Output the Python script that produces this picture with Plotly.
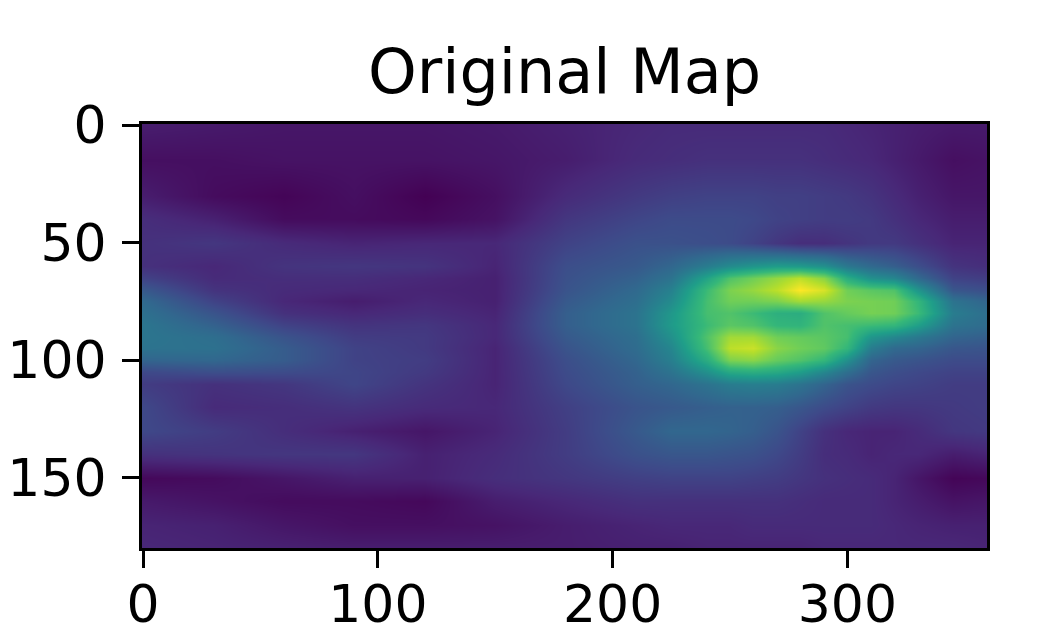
import plotly.graph_objects as go

title = "Original Map"
x_cols = [0,30,60,90,120,150,180,210,225,240,250,260,270,280,290,300,310,320,330,345,360]
y_rows = [0,15,30,40,50,60,65,70,75,80,85,90,95,100,105,110,120,130,140,150,160,170,180]
x_ticks = [0,100,200,300]
y_ticks = [0,50,100,150]
z_values = [
 [8,7,6,6,6,7,9,11,12,12,12,12,12,12,12,11,10,9,8,7,7],
 [4,4,5,5,5,6,8,12,13,14,14,14,14,14,13,12,11,9,7,4,5],
 [8,3,1,4,0,4,12,17,19,20,20,20,19,19,18,17,15,12,9,6,6],
 [13,9,3,3,2,5,16,21,23,23,23,22,20,19,18,18,17,14,11,8,8],
 [14,16,12,10,11,11,20,25,25,24,23,20,16,13,13,15,17,17,14,10,10],
 [14,11,15,16,15,10,24,28,33,42,48,52,55,54,50,40,34,30,24,15,13],
 [20,12,13,13,11,9,25,31,38,58,72,78,84,90,82,62,50,46,34,20,18],
 [28,15,12,11,10,9,26,34,44,68,80,84,90,100,94,78,74,72,52,27,24],
 [34,20,11,8,11,9,28,36,48,70,78,78,80,86,84,80,79,78,66,38,32],
 [37,26,14,11,13,10,30,38,53,70,72,68,63,62,72,76,79,78,68,42,36],
 [39,31,20,15,16,11,30,38,54,68,74,72,66,65,72,70,68,66,56,38,35],
 [39,36,26,18,17,11,28,36,50,72,86,86,78,76,74,70,52,46,40,32,30],
 [38,37,29,20,17,10,26,35,46,70,90,92,82,78,75,66,42,34,32,27,26],
 [32,33,29,20,18,10,24,33,43,62,80,82,76,72,66,50,32,28,26,23,23],
 [22,24,23,21,17,10,23,31,38,50,60,62,60,55,46,36,27,24,22,20,20],
 [18,14,16,21,15,10,22,30,33,38,42,43,42,38,32,26,23,21,20,18,18],
 [22,12,13,15,12,11,19,26,28,30,31,31,30,27,23,20,17,16,16,17,18],
 [22,18,13,9,6,10,18,28,33,33,32,30,26,20,14,11,10,10,12,16,17],
 [14,15,16,16,9,12,18,25,27,27,26,25,22,18,13,12,10,11,11,8,10],
 [2,3,6,9,9,13,16,19,20,20,20,19,18,16,14,13,12,10,6,1,2],
 [7,5,3,3,2,8,11,14,14,14,14,14,14,13,12,12,12,10,8,5,6],
 [10,9,6,4,4,5,8,10,11,11,11,12,12,12,12,12,12,11,10,9,9],
 [11,10,9,8,8,8,8,9,9,10,10,10,10,10,11,11,11,11,11,11,10],
]

fig = go.Figure(go.Heatmap(x=x_cols, y=y_rows, z=z_values, zsmooth="best",
                           colorscale="Viridis", zmin=0, zmax=100, showscale=False))
axis = dict(showline=True, mirror=True, linecolor="black", linewidth=3,
            ticks="outside", ticklen=17, tickwidth=3, tickcolor="black", automargin=False,
            showgrid=False, zeroline=False, tickfont=dict(size=52, color="black"))
fig.update_xaxes(range=[-0.5, 359.5], tickvals=x_ticks, ticklabelstandoff=-8, **axis)
fig.update_yaxes(range=[180, -0.5], tickvals=y_ticks, ticklabelstandoff=5, **axis)
fig.update_layout(
    width=1043, height=629, autosize=False,
    margin=dict(l=142, r=56, t=124, b=81, pad=0),
    paper_bgcolor="white", plot_bgcolor="white",
    font=dict(family="DejaVu Sans", color="black"),
    title=dict(text=title, font=dict(size=62, color="black"), x=0.5, xref="paper", xanchor="center",
               y=1, yref="paper", yanchor="bottom", pad=dict(b=31)),
)
fig.write_html("out.html", post_script="document.body.style.margin='0';", config={"displayModeBar": False})
